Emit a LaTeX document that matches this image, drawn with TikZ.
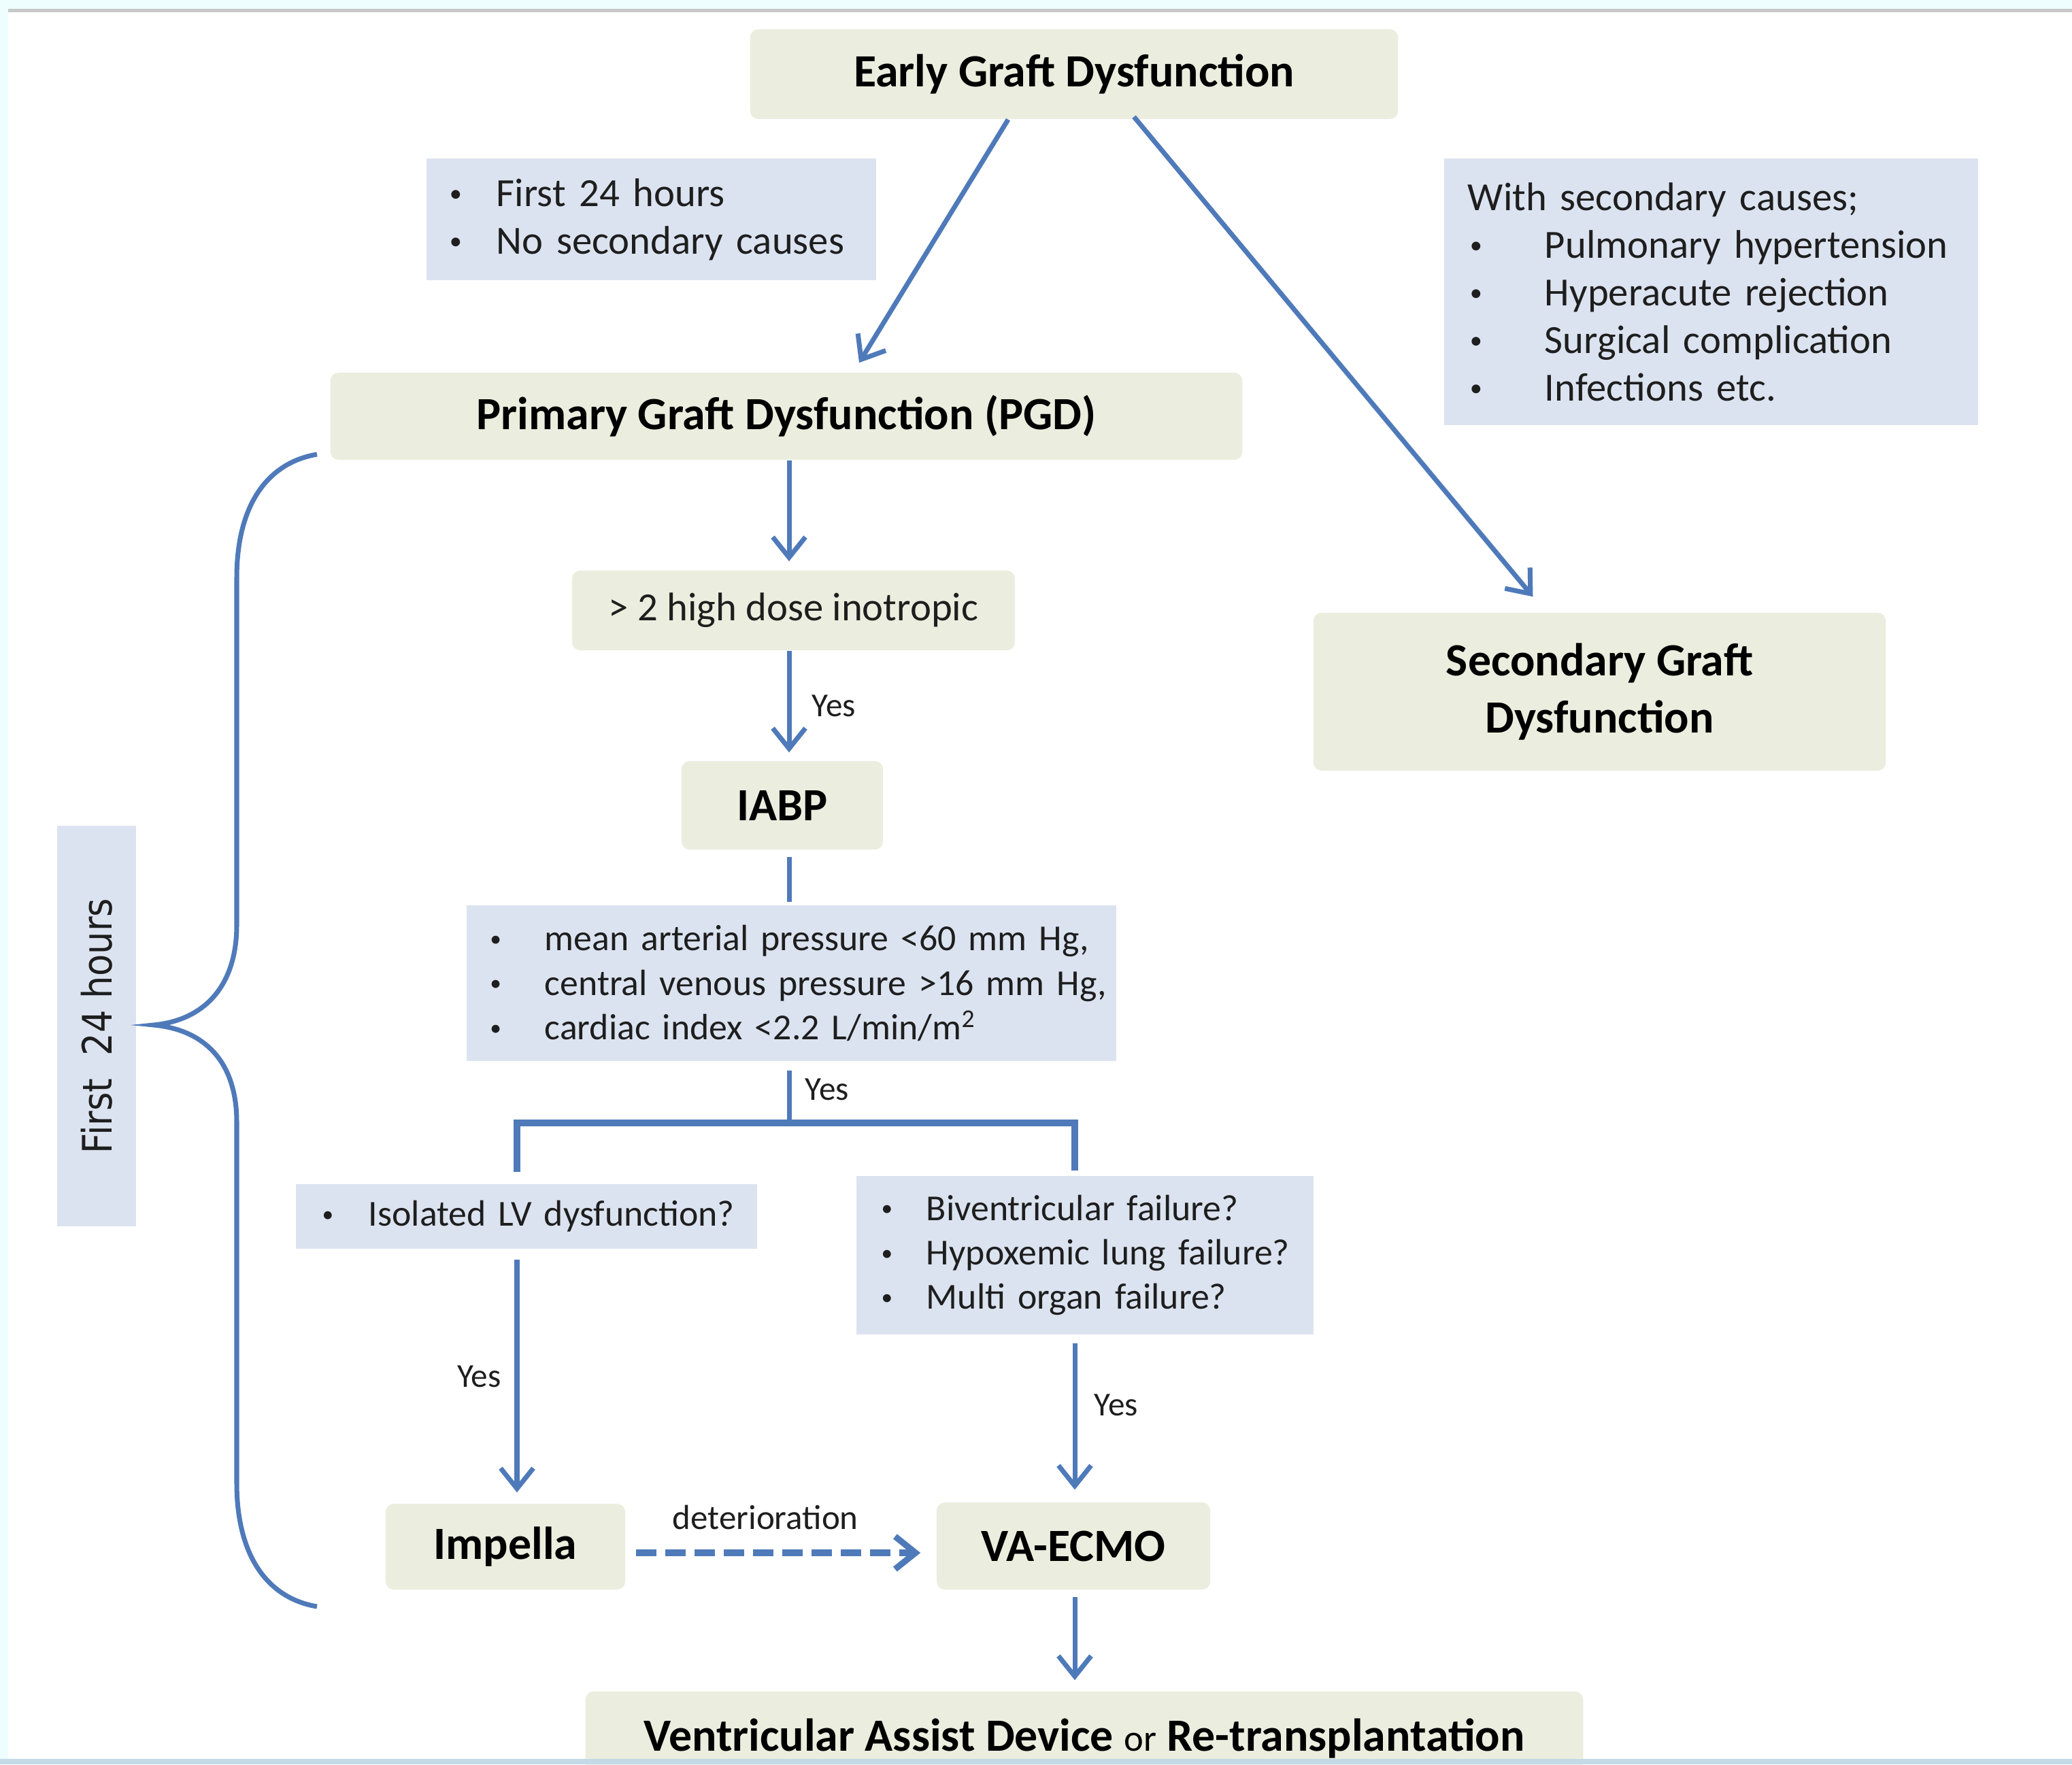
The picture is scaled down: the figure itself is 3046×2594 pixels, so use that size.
\documentclass[tikz,border=0pt]{standalone}
\usepackage{fontspec}
\setmainfont{Carlito}
\newfontfamily\sidefont[FakeStretch=0.88]{DejaVu Sans}
\usetikzlibrary{arrows.meta,calc}

\definecolor{stagefill}{RGB}{235,238,222}
\definecolor{notefill}{RGB}{220,227,240}
\definecolor{flowblue}{RGB}{79,122,186}
\definecolor{framecyan}{RGB}{238,253,253}
\definecolor{framebar}{RGB}{200,200,200}
\definecolor{footbar}{RGB}{196,218,230}
\definecolor{inkgray}{RGB}{30,30,30}

\newcommand{\titlesize}{\fontsize{19.3}{23.8}\selectfont}
\newcommand{\bodysize}{\fontsize{16.7}{19.9}\selectfont}
\newcommand{\listsize}{\fontsize{15.3}{18.6}\selectfont}
% bullet centred #1 from the box edge, text #2 further on
\newcommand{\dotitem}[2]{\hspace*{#1}\makebox[0pt]{\raisebox{0.12em}{\scalebox{0.62}{\textbullet}}}\hspace*{#2}}

\tikzset{
  stage/.style={fill=stagefill, rounded corners=0.12cm, inner sep=0pt, align=center, text=black, font=\bfseries\titlesize},
  note/.style={fill=notefill, inner sep=0pt, align=left, text=inkgray},
  flow/.style={draw=flowblue, line width=2pt, -{Straight Barb[length=0.3cm,width=0.48cm]}},
  bare/.style={draw=flowblue, line width=2pt},
  yes/.style={font=\fontsize{14}{16}\selectfont, text=inkgray, inner sep=0pt},
}

\begin{document}
\begin{tikzpicture}[x=0.01cm, y=-0.01cm]
% frame
\fill[framecyan] (0,0) rectangle (3046,2594);
\fill[white] (12,18) rectangle (3046,2586);
\fill[framebar] (12,13) rectangle (3046,18);
\begin{scope}
\clip (0,0) rectangle (3046,2594);
%
\node (early) at (1579,109) [stage, minimum width=9.52cm, minimum height=1.32cm] {Early Graft Dysfunction};
\node (pgdnote) at (957.5,322.5) [note, font=\bodysize, text width=6.61cm, minimum height=1.79cm]
  {\dotitem{0.43cm}{0.6cm}First 24 hours\\ \dotitem{0.43cm}{0.6cm}No secondary causes};
\node (causes) at (2515.5,429) [note, font=\bodysize, text width=7.85cm, minimum height=3.92cm]
  {\hspace*{0.35cm}With secondary causes;\\
   \dotitem{0.47cm}{1.01cm}Pulmonary hypertension\\
   \dotitem{0.47cm}{1.01cm}Hyperacute rejection\\
   \dotitem{0.47cm}{1.01cm}Surgical complication\\
   \dotitem{0.47cm}{1.01cm}Infections etc.};
\node (pgd) at (1156,612) [stage, minimum width=13.40cm, minimum height=1.28cm] {Primary Graft Dysfunction (PGD)};
\node (sgd) at (2351.5,1017) [stage, minimum width=8.41cm, minimum height=2.32cm] {Secondary Graft\\Dysfunction};
%
\node (inotrope) at (1166.5,897.5) [stage, font=\mdseries\bodysize, text=inkgray, minimum width=6.51cm, minimum height=1.17cm] {> 2 high dose inotropic};
\node (iabp) at (1150,1184) [stage, minimum width=2.96cm, minimum height=1.30cm] {IABP};
\node (criteria) at (1163.5,1445.5) [note, font=\listsize, text width=9.55cm, minimum height=2.29cm]
  {\dotitem{0.43cm}{0.72cm}mean arterial pressure <60 mm Hg,\\
   \dotitem{0.43cm}{0.72cm}central venous pressure >16 mm Hg,\\
   \dotitem{0.43cm}{0.72cm}cardiac index <2.2 L/min/m\textsuperscript{2}};
\node (lvbox) at (774,1788.5) [note, font=\listsize, text width=6.78cm, minimum height=0.95cm]
  {\dotitem{0.47cm}{0.6cm}Isolated LV dysfunction?};
\node (bivbox) at (1595,1845.5) [note, font=\listsize, text width=6.72cm, minimum height=2.33cm]
  {\dotitem{0.45cm}{0.58cm}Biventricular failure?\\
   \dotitem{0.45cm}{0.58cm}Hypoxemic lung failure?\\
   \dotitem{0.45cm}{0.58cm}Multi organ failure?};
\node (impella) at (743,2274) [stage, minimum width=3.52cm, minimum height=1.26cm] {Impella};
\node (ecmo) at (1578,2273) [stage, minimum width=4.02cm, minimum height=1.28cm] {VA-ECMO};
\node (vad) at (1594,2556) [stage, minimum width=14.66cm, minimum height=1.38cm]
  {Ventricular Assist Device {\mdseries\fontsize{15.5}{18}\selectfont or} Re-transplantation};
%
\node (hours) at (142,1508.5) [note, rotate=90, font=\sidefont\fontsize{17}{20}\selectfont, minimum width=5.89cm, minimum height=1.16cm] {First~~24 hours};
%
\coordinate (spine) at (1160,0);
\coordinate (lcol) at (760,0);
\coordinate (rcol) at (1580,0);
\coordinate (split) at (1160,1651);
\coordinate (lane) at (0,2283);
%
\draw[flow] ($(early.south)+(-97,0)$) -- ($(pgd.north)+(107,-14)$);
\draw[flow] ($(early.south)+(88,-4)$) -- ($(sgd.north)+(-98,-23)$);
\draw[flow, shorten >=0.13cm] (pgd.south -| spine) -- (inotrope.north -| spine);
\draw[flow, shorten >=0.12cm] (inotrope.south -| spine) -- node[yes, right=0.3cm] {Yes} (iabp.north -| spine);
\draw[bare, shorten <=0.1cm, shorten >=0.04cm] (iabp.south -| spine) -- (criteria.north -| spine);
\draw[bare, shorten <=0.13cm] (criteria.south -| spine) -- node[yes, right=0.2cm, pos=0.45] {Yes} (split);
\draw[bare, line width=2.6pt, shorten <=0.17cm, shorten >=0.07cm] (lvbox.north -| lcol) |- (split) -| (bivbox.north -| rcol);
\draw[flow, shorten <=0.15cm, shorten >=0.16cm] (lvbox.south -| lcol) -- node[yes, left=0.2cm] {Yes} (impella.north -| lcol);
\draw[flow, shorten <=0.12cm, shorten >=0.18cm] (bivbox.south -| rcol) -- node[yes, right=0.25cm, pos=0.42] {Yes} (ecmo.north -| rcol);
\draw[flow, line width=2.6pt, dash pattern=on 0.3cm off 0.13cm, shorten <=0.15cm, shorten >=0.23cm]
  (impella.east |- lane) -- node[yes, font=\fontsize{14.5}{16}\selectfont, above=0.3cm, pos=0.45] {deterioration} (ecmo.west |- lane);
\draw[flow, shorten <=0.1cm, shorten >=0.16cm] (ecmo.south -| rcol) -- (vad.north -| rcol);
%
\coordinate (bracetop) at (466,668);
\coordinate (bracetip) at (226,1507);
\coordinate (bracebot) at (466,2362);
\draw[bare] (bracetop) .. controls (395,680) and (348,740) .. (348,850) -- (348,1360)
  .. controls (348,1450) and (300,1500) .. (bracetip)
  .. controls (300,1514) and (348,1560) .. (348,1650) -- (348,2180)
  .. controls (348,2290) and (395,2350) .. (bracebot);
%
\fill[footbar] (0,2586) rectangle (3046,2594);
\end{scope}
\pgfresetboundingbox
\useasboundingbox (0,0) rectangle (3046,2594);
\end{tikzpicture}
\end{document}
